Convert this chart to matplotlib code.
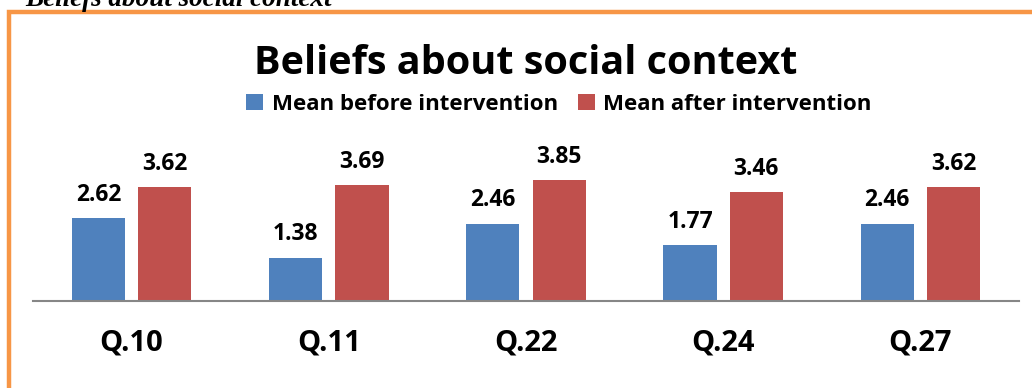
import matplotlib.pyplot as plt
from matplotlib.patches import Rectangle
import numpy as np

questions = ["Q.10", "Q.11", "Q.22", "Q.24", "Q.27"]
before = [2.62, 1.38, 2.46, 1.77, 2.46]
after = [3.62, 3.69, 3.85, 3.46, 3.62]
series_names = ["Mean before intervention", "Mean after intervention"]

W, H = 1032, 388
fig = plt.figure(figsize=(W / 100, H / 100), dpi=100)
plt.rcParams['font.family'] = ['Open Sans', 'DejaVu Sans']

# orange frame, only left and top edges fall inside the page
fig.patches.append(Rectangle((9 / W, -0.1), 1.2, 1 - 12 / H + 0.1, transform=fig.transFigure,
                             fill=False, edgecolor="#F79646", linewidth=3.2))
fig.text(25 / W, 1 - 6 / H, "Beliefs about social context", family="Liberation Serif",
         style="italic", weight="bold", fontsize=19.5, va="baseline", ha="left")

ymax = 4.5
ax_bottom = 301
ax_h = 31.5 * ymax
ax = fig.add_axes([33 / W, 1 - ax_bottom / H, 986 / W, ax_h / H])
ax.set_xlim(0, 5)
ax.set_ylim(0, ymax)

x = np.arange(len(questions))
bw = 0.27
b1 = ax.bar(x + 0.5 - 0.033 - bw / 2, before, bw, color="#4F81BD", label=series_names[0])
b2 = ax.bar(x + 0.5 + 0.033 + bw / 2, after, bw, color="#C0504D", label=series_names[1])
for bars in (b1, b2):
    ax.bar_label(bars, labels=[f"{v:.2f}" for v in bars.datavalues], padding=8,
                 fontsize=16.5, fontweight="bold")

for s in ["top", "right", "left"]:
    ax.spines[s].set_visible(False)
ax.spines["bottom"].set_color("#868686")
ax.spines["bottom"].set_linewidth(1.5)
ax.set_yticks([])
ax.set_xticks(x + 0.5)
ax.set_xticklabels(questions, fontsize=21, fontweight="bold")
ax.tick_params(axis="x", length=0, pad=20)

fig.text(526 / W, 1 - 64 / H, "Beliefs about social context", fontsize=28.5,
         fontweight="bold", ha="center", va="center")
fig.legend(handles=[b1, b2], loc="center", bbox_to_anchor=(559 / W, 1 - 104 / H), ncol=2,
           frameon=False, prop={"size": 16, "weight": "bold"}, handlelength=0.75,
           handleheight=0.75, handletextpad=0.4, columnspacing=0.9)

fig.savefig("out.png", dpi=100)
